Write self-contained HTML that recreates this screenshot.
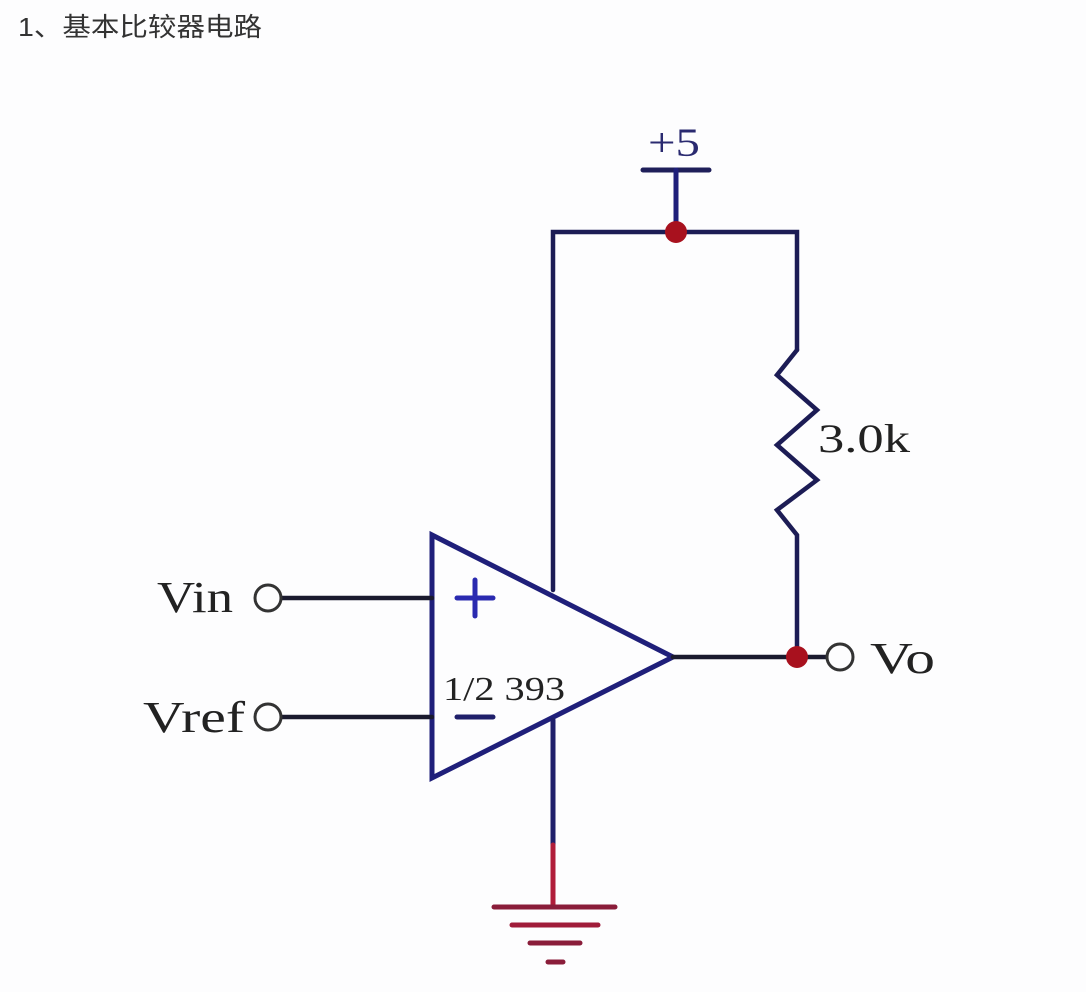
<!DOCTYPE html>
<html><head><meta charset="utf-8"><style>
html,body{margin:0;padding:0;background:#fff;}
</style></head><body>
<svg width="1086" height="992" viewBox="0 0 1086 992" xmlns="http://www.w3.org/2000/svg">
<rect width="1086" height="992" fill="#fdfdfe"/>
<text x="18" y="36" font-family="Liberation Sans, Noto Sans CJK SC, sans-serif" font-size="26" fill="#333" textLength="244" lengthAdjust="spacingAndGlyphs">1、基本比较器电路</text>
<g fill="none" stroke-linecap="round" stroke-linejoin="miter">
<line x1="643" y1="170" x2="709" y2="170" stroke="#1f1f5a" stroke-width="5"/>
<line x1="676" y1="170" x2="676" y2="232" stroke="#1f1f7a" stroke-width="5"/>
<polyline points="553,590 553,232 797,232 797,350" stroke="#1c1c55" stroke-width="4.5"/>
<polyline points="797,350 777,375 817,410 777,445 817,480 777,510 797,535 797,657" stroke="#1c1c55" stroke-width="4.5"/>
<polygon points="432,535 432,778 673,657" stroke="#1f1f7a" stroke-width="5"/>
<line x1="553" y1="720" x2="553" y2="850" stroke="#1f1f6a" stroke-width="5"/>
<line x1="553" y1="845" x2="553" y2="905" stroke="#b01d3a" stroke-width="5"/>
<line x1="494" y1="907" x2="615" y2="907" stroke="#8a1d3a" stroke-width="5"/>
<line x1="512" y1="925" x2="598" y2="925" stroke="#a01c3a" stroke-width="5"/>
<line x1="530" y1="943" x2="580" y2="943" stroke="#8a1d3a" stroke-width="5"/>
<line x1="548" y1="962" x2="563" y2="962" stroke="#8a1d3a" stroke-width="5"/>
<line x1="282" y1="598" x2="432" y2="598" stroke="#1a1a2e" stroke-width="4.5"/>
<line x1="282" y1="717" x2="432" y2="717" stroke="#1a1a2e" stroke-width="4.5"/>
<circle cx="268" cy="598" r="13" stroke="#333" stroke-width="3"/>
<circle cx="268" cy="717" r="13" stroke="#333" stroke-width="3"/>
<line x1="673" y1="657" x2="826" y2="657" stroke="#1a1a2e" stroke-width="4.5"/>
<circle cx="840" cy="657" r="13" stroke="#333" stroke-width="3"/>
<line x1="457" y1="598" x2="493" y2="598" stroke="#2a2ab0" stroke-width="5"/>
<line x1="475" y1="580" x2="475" y2="616" stroke="#2a2ab0" stroke-width="5"/>
<line x1="457" y1="717" x2="493" y2="717" stroke="#1f1f6a" stroke-width="5"/>
</g>
<circle cx="676" cy="232" r="11" fill="#a8111e"/>
<circle cx="797" cy="657" r="11" fill="#a8111e"/>
<g font-family="Liberation Serif, serif" fill="#222" lengthAdjust="spacingAndGlyphs">
<text x="648" y="156" font-size="40" fill="#2a2a70" textLength="52" lengthAdjust="spacingAndGlyphs">+5</text>
<text x="818" y="452" font-size="40" textLength="92" lengthAdjust="spacingAndGlyphs">3.0k</text>
<text x="157" y="612" font-size="44" textLength="76" lengthAdjust="spacingAndGlyphs">Vin</text>
<text x="143" y="732" font-size="44" textLength="102" lengthAdjust="spacingAndGlyphs">Vref</text>
<text x="870" y="673" font-size="44" textLength="65" lengthAdjust="spacingAndGlyphs">Vo</text>
<text x="443" y="700" font-size="34" textLength="122" lengthAdjust="spacingAndGlyphs">1/2 393</text>
</g>
</svg>
</body></html>
